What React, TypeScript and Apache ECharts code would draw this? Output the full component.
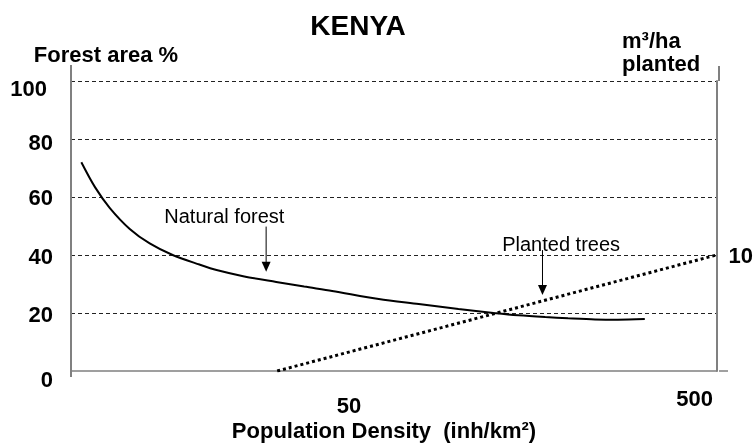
import React, { useEffect, useRef } from 'react';
import * as echarts from 'echarts';

// ---- data ----
const xMin = 7.85; // population density at left edge (log axis)
const xMax = 578.6; // population density at right edge
const xTickValues = [50, 500];
const leftTicks = [0, 20, 40, 60, 80, 100];
const rightShownTick = 10;

const forestDensity = [
  8.41, 9.21, 10.17, 11.61, 13.26, 15.45, 18.47, 20.7, 24.9, 30.8, 37.1, 44.7, 61.0, 79.6, 103.7, 130.9, 154.5,
  184.8, 215.2, 257.5, 300, 358.8,
];
const forestPct = [
  72, 63.4, 56.2, 49.0, 44.0, 40, 36.7, 34.8, 32.6, 30.7, 29.1, 27.6, 24.8, 23.1, 21.4, 20, 19.2, 18.6, 18.2,
  17.8, 17.7, 17.9,
];

const plantedDensity = [31, 578.6];
const plantedVolume = [0, 10];

const annotationLabels = ['Natural forest', 'Planted trees'];
const annotationTextPos = [[21.8, 53.6], [205.5, 43.8]];
const arrowX = [28.8, 181.5];
const arrowFromY = [49.8, 41.7];
const arrowToY = [34.2, 26.2];

const FONT = '"Liberation Sans", Arial, Helvetica, sans-serif';
const AXIS_GRAY = '#808080';

export default function App() {
  const ref = useRef<HTMLDivElement>(null);
  useEffect(() => {
    const chart = echarts.init(ref.current!, null, { renderer: 'svg' });
    const labelPad: Record<string, number[]> = {
      l100: [14, 6, 0, 0],
      l80: [7, 0, 0, 0],
      l60: [0, 0, 0, 0],
      l40: [2, 0, 0, 0],
      l20: [2, 0, 0, 0],
      l0: [16, 0, 0, 0],
    };
    const rich: Record<string, any> = {};
    Object.keys(labelPad).forEach((k) => {
      rich[k] = { padding: labelPad[k], fontSize: 22, fontWeight: 'bold', fontFamily: FONT, color: '#000' };
    });
    const xrich = {
      x50: { padding: [7, 0, 0, 0], fontSize: 22, fontWeight: 'bold', fontFamily: FONT, color: '#000' },
      x500: { padding: [0, 0, 0, 0], fontSize: 22, fontWeight: 'bold', fontFamily: FONT, color: '#000' },
    };

    chart.setOption({
      animation: false,
      grid: { left: 71, right: 37, top: 81, bottom: 72 },
      xAxis: {
        type: 'log',
        logBase: 10,
        min: xMin,
        max: xMax,
        axisLine: { show: true, lineStyle: { color: AXIS_GRAY, width: 1.5 } },
        axisTick: { show: false },
        splitLine: { show: false },
        minorTick: { show: false },
        axisLabel: {
          show: true,
          customValues: xTickValues,
          margin: 16,
          formatter: (v: number) => `{x${Math.round(v)}|${Math.round(v)}}`,
          rich: xrich,
          fontSize: 22,
          fontWeight: 'bold',
          fontFamily: FONT,
          color: '#000',
        },
      },
      yAxis: [
        {
          type: 'value',
          min: 0,
          max: 100,
          interval: 20,
          axisLine: { show: true, lineStyle: { color: AXIS_GRAY, width: 2 } },
          axisTick: { show: false },
          splitLine: { show: true, showMinLine: false, lineStyle: { color: '#222', width: 1, type: [4, 3] } },
          axisLabel: {
            margin: 18,
            formatter: (v: number) => (leftTicks.indexOf(v) >= 0 ? `{l${v}|${v}}` : ''),
            rich,
            fontSize: 22,
            fontWeight: 'bold',
            fontFamily: FONT,
            color: '#000',
          },
        },
        {
          type: 'value',
          position: 'right',
          min: 0,
          max: 25,
          interval: 5,
          axisLine: { show: true, lineStyle: { color: AXIS_GRAY, width: 2 } },
          axisTick: { show: false },
          splitLine: { show: false },
          axisLabel: {
            margin: 12,
            formatter: (v: number) => (v === rightShownTick ? String(v) : ''),
            fontSize: 22,
            fontWeight: 'bold',
            fontFamily: FONT,
            color: '#000',
          },
        },
      ],
      series: [
        {
          name: 'Natural forest',
          type: 'line',
          xAxisIndex: 0,
          yAxisIndex: 0,
          smooth: 0.3,
          showSymbol: false,
          symbol: 'none',
          lineStyle: { color: '#000', width: 2 },
          data: forestDensity.map((d, i) => [d, forestPct[i]]),
          z: 3,
        },
        {
          name: 'Planted trees',
          type: 'line',
          xAxisIndex: 0,
          yAxisIndex: 1,
          showSymbol: false,
          symbol: 'none',
          lineStyle: { color: '#000', width: 3, type: [3, 3], cap: 'butt' },
          data: plantedDensity.map((d, i) => [d, plantedVolume[i]]),
          z: 4,
        },
      ],
    });

    const toPx = (p: number[]) =>
      chart.convertToPixel({ xAxisIndex: 0, yAxisIndex: 0 } as any, p) as number[];

    const graphics: any[] = [];
    // title & axis titles
    graphics.push({
      type: 'text',
      x: 358,
      y: 25,
      style: {
        text: 'KENYA',
        fontSize: 28,
        fontWeight: 'bold',
        fontFamily: FONT,
        fill: '#000',
        align: 'center',
        verticalAlign: 'middle',
      },
    });
    const boldText = (text: string, x: number, y: number, align: string) => ({
      type: 'text',
      x,
      y,
      style: { text, fontSize: 22, fontWeight: 'bold', fontFamily: FONT, fill: '#000', align, verticalAlign: 'middle' },
    });
    graphics.push(boldText('Forest area %', 106, 54, 'center'));
    graphics.push(boldText('m³/ha', 622, 40, 'left'));
    graphics.push(boldText('planted', 622, 63, 'left'));
    graphics.push(boldText('Population Density  (inh/km²)', 384, 430, 'center'));

    // axis extensions
    const grayLine = { stroke: AXIS_GRAY, lineWidth: 2 };
    graphics.push({ type: 'line', shape: { x1: 71, y1: 65, x2: 71, y2: 81 }, style: grayLine });
    graphics.push({ type: 'line', shape: { x1: 71, y1: 371, x2: 71, y2: 377 }, style: grayLine });
    graphics.push({ type: 'line', shape: { x1: 719, y1: 66, x2: 719, y2: 81 }, style: grayLine });
    graphics.push({ type: 'line', shape: { x1: 719, y1: 371, x2: 728, y2: 371 }, style: { stroke: AXIS_GRAY, lineWidth: 1.5 } });

    // annotations
    annotationLabels.forEach((label, i) => {
      const tp = toPx(annotationTextPos[i]);
      graphics.push({
        type: 'text',
        x: tp[0],
        y: tp[1],
        style: { text: label, fontSize: 20, fontFamily: FONT, fill: '#000', align: 'center', verticalAlign: 'middle' },
      });
      const a = toPx([arrowX[i], arrowFromY[i]]);
      const b = toPx([arrowX[i], arrowToY[i]]);
      graphics.push({
        type: 'line',
        shape: { x1: a[0], y1: a[1], x2: b[0], y2: b[1] - 8 },
        style: { stroke: '#000', lineWidth: 1 },
      });
      graphics.push({
        type: 'polygon',
        shape: { points: [[b[0] - 4.5, b[1] - 10], [b[0] + 4.5, b[1] - 10], [b[0], b[1]]] },
        style: { fill: '#000' },
      });
    });

    chart.setOption({ graphic: graphics });
    return () => chart.dispose();
  }, []);
  return <div ref={ref} style={{ position: 'fixed', left: 0, top: 0, width: 756, height: 443 }} />;
}
